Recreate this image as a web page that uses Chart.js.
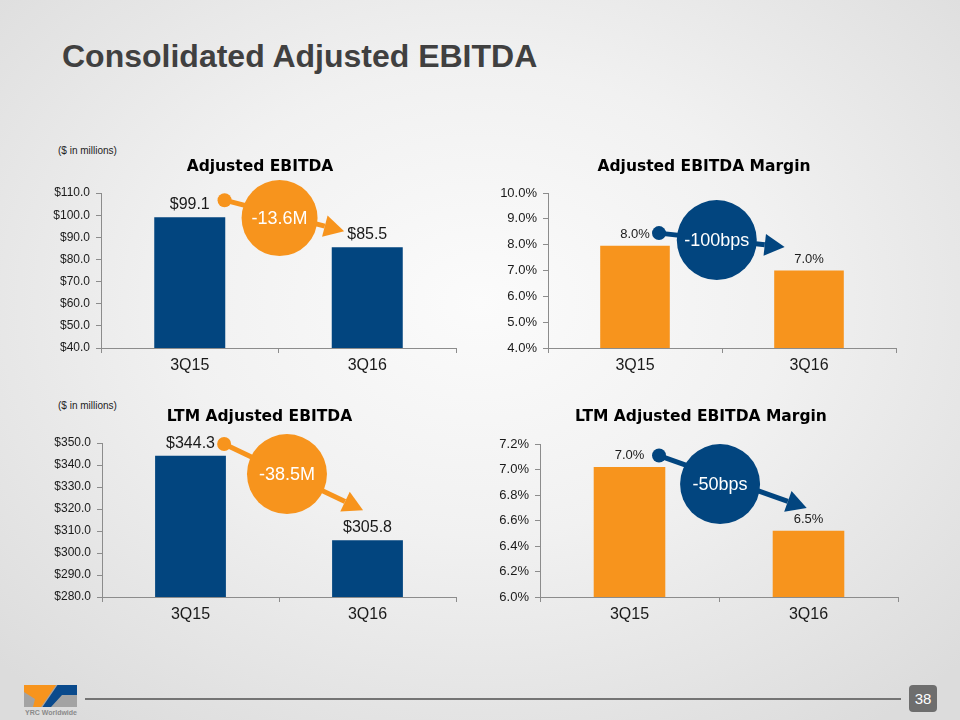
<!DOCTYPE html>
<html>
<head>
<meta charset="utf-8">
<script src="https://cdn.jsdelivr.net/npm/chart.js@4.4.0/dist/chart.umd.min.js"></script>
<style>
html,body{margin:0;padding:0;}
body{width:960px;height:720px;overflow:hidden;}
#slide{position:relative;width:960px;height:720px;overflow:hidden;
  background:radial-gradient(ellipse 70% 72% at 50% 42%, #fbfbfb 0%, #f1f1f1 45%, #dcdcdc 100%);
  font-family:"Liberation Sans", Arial, sans-serif;}
#title{position:absolute;left:62px;top:40px;font-size:32px;line-height:32px;font-weight:bold;color:#404040;white-space:nowrap;}
.unit{position:absolute;left:58px;font-size:10px;line-height:12px;color:#222;white-space:nowrap;}
canvas{position:absolute;}
#footline{position:absolute;left:85px;top:698px;width:816px;height:2px;background:#747474;}
#page{position:absolute;left:909px;top:685px;width:28px;height:27px;border-radius:4px;background:#6e6e6e;color:#fff;font-size:15px;line-height:27px;text-align:center;}
#logo{position:absolute;left:24px;top:685px;}
#logotext{position:absolute;left:25px;top:709px;font-size:7px;line-height:8px;font-weight:bold;color:#8a8a8a;white-space:nowrap;}
</style>
</head>
<body>
<div id="slide">
  <div id="title">Consolidated Adjusted EBITDA</div>
  <div class="unit" style="top:145px;">($ in millions)</div>
  <div class="unit" style="top:400px;">($ in millions)</div>
  <canvas id="c1" width="440" height="228" style="left:40px;top:150px;"></canvas>
  <canvas id="c2" width="428" height="228" style="left:490px;top:150px;"></canvas>
  <canvas id="c3" width="439" height="227" style="left:40px;top:400px;"></canvas>
  <canvas id="c4" width="422" height="227" style="left:490px;top:400px;"></canvas>
  <svg id="logo" width="53" height="22" viewBox="0 0 53 22">
    <rect x="0" y="0" width="53" height="22" fill="#a3a3a3"/>
    <polygon points="0,0 32,0 17,22 9,22 11,14 0,7" fill="#f7941d"/>
    <polygon points="33.5,0 53,0 53,10 38,10 27,22 18.5,22" fill="#0a4a8c"/>
  </svg>
  <div id="logotext">YRC Worldwide</div>
  <div id="footline"></div>
  <div id="page">38</div>
</div>
<script>
// ---------- data ----------
const categories = ['3Q15', '3Q16'];

const ebitdaValues = [99.1, 85.5];
const ebitdaLabels = ['$99.1', '$85.5'];
const ebitdaTicks = [40, 50, 60, 70, 80, 90, 100, 110];

const marginValues = [7.96, 7.0];
const marginLabels = ['8.0%', '7.0%'];
const marginTicks = [4, 5, 6, 7, 8, 9, 10];

const ltmEbitdaValues = [344.3, 305.8];
const ltmEbitdaLabels = ['$344.3', '$305.8'];
const ltmEbitdaTicks = [280, 290, 300, 310, 320, 330, 340, 350];

const ltmMarginValues = [7.02, 6.52];
const ltmMarginLabels = ['7.0%', '6.5%'];
const ltmMarginTicks = [6.0, 6.2, 6.4, 6.6, 6.8, 7.0, 7.2];

const changeTexts = ['-13.6M', '-100bps', '-38.5M', '-50bps'];

// ---------- style ----------
const FONT = '"Liberation Sans", Arial, sans-serif';
const TITLE_FONT = '"DejaVu Sans", Verdana, sans-serif';
const NAVY = '#02457f';
const ORANGE = '#f7941d';
const AXIS = '#8c8c8c';
const TEXT = '#1a1a1a';

const dollarFmt = v => '$' + Number(v).toFixed(1);
const pctFmt = v => Number(v).toFixed(1) + '%';

// value labels above bars
const valueLabelPlugin = {
  id: 'valueLabels',
  afterDatasetsDraw(chart, args, opts) {
    const ctx = chart.ctx;
    const meta = chart.getDatasetMeta(0);
    ctx.save();
    ctx.font = opts.size + 'px ' + FONT;
    ctx.fillStyle = TEXT;
    ctx.textAlign = 'center';
    ctx.textBaseline = 'alphabetic';
    meta.data.forEach((bar, i) => ctx.fillText(opts.labels[i], bar.x, bar.y - opts.gap));
    ctx.restore();
  }
};

// change callout: dot -> arrow, with circle badge (positions in data units)
const changePlugin = {
  id: 'change',
  afterDatasetsDraw(chart, args, o) {
    if (!o || !o.text) return;
    const {ctx, scales: {x, y}} = chart;
    const px = p => [x.getPixelForValue(p[0]), y.getPixelForValue(p[1])];
    const [fx, fy] = px(o.from), [cx, cy] = px(o.center), [tx, ty] = px(o.to);
    const ang = Math.atan2(ty - fy, tx - fx);
    const headLen = 20, headW = 11;
    const bx = tx - headLen * Math.cos(ang), by = ty - headLen * Math.sin(ang);
    ctx.save();
    ctx.strokeStyle = o.color;
    ctx.fillStyle = o.color;
    ctx.lineWidth = 5;
    ctx.beginPath(); ctx.moveTo(fx, fy); ctx.lineTo(bx, by); ctx.stroke();
    ctx.beginPath(); ctx.arc(fx, fy, 7, 0, Math.PI * 2); ctx.fill();
    ctx.beginPath();
    ctx.moveTo(tx, ty);
    ctx.lineTo(bx - headW * Math.sin(ang), by + headW * Math.cos(ang));
    ctx.lineTo(bx + headW * Math.sin(ang), by - headW * Math.cos(ang));
    ctx.closePath(); ctx.fill();
    ctx.beginPath(); ctx.arc(cx, cy, o.radius, 0, Math.PI * 2); ctx.fill();
    ctx.fillStyle = '#ffffff';
    ctx.font = '18px ' + FONT;
    ctx.textAlign = 'center';
    ctx.textBaseline = 'middle';
    ctx.fillText(o.text, cx, cy + 1);
    ctx.restore();
  }
};

function makeChart(id, cfg) {
  return new Chart(document.getElementById(id), {
    type: 'bar',
    data: {
      labels: categories,
      datasets: [{
        data: cfg.values,
        backgroundColor: cfg.color,
        borderWidth: 0,
        barPercentage: 0.4,
        categoryPercentage: 1.0
      }]
    },
    options: {
      responsive: false,
      animation: false,
      events: [],
      layout: {padding: 0},
      plugins: {
        legend: {display: false},
        tooltip: {enabled: false},
        title: {
          display: true, text: cfg.title, color: '#000',
          font: {family: TITLE_FONT, size: 15.5, weight: 'bold'},
          padding: {top: 8, bottom: cfg.titleGap}
        },
        valueLabels: {labels: cfg.labels, size: cfg.labelSize, gap: 8},
        change: cfg.change
      },
      scales: {
        x: {
          grid: {display: true, drawOnChartArea: false, drawTicks: true, tickLength: 5, color: AXIS, offset: true},
          border: {display: true, color: AXIS, width: 1},
          ticks: {color: TEXT, font: {family: FONT, size: 16}, padding: 3, maxRotation: 0},
          afterFit(s) { s.height = 30; s.paddingLeft = 0; s.paddingRight = cfg.padRight; }
        },
        y: {
          min: cfg.ticks[0],
          max: cfg.ticks[cfg.ticks.length - 1],
          grid: {display: true, drawOnChartArea: false, drawTicks: true, tickLength: 5, color: AXIS},
          border: {display: true, color: AXIS, width: 1},
          ticks: {color: TEXT, font: {family: FONT, size: cfg.tickSize}, padding: 6, callback: cfg.fmt},
          afterBuildTicks(s) { s.ticks = cfg.ticks.map(v => ({value: v})); },
          afterFit(s) { s.width = cfg.axisWidth; }
        }
      }
    },
    plugins: [valueLabelPlugin, changePlugin]
  });
}

makeChart('c1', {
  title: 'Adjusted EBITDA', values: ebitdaValues, labels: ebitdaLabels, ticks: ebitdaTicks,
  color: NAVY, fmt: dollarFmt, tickSize: 12, labelSize: 16, axisWidth: 61, padRight: 24, titleGap: 16.5,
  change: {text: changeTexts[0], color: ORANGE, radius: 38, from: [0.196, 106.8], center: [0.506, 98.7], to: [0.87, 92.8]}
});
makeChart('c2', {
  title: 'Adjusted EBITDA Margin', values: marginValues, labels: marginLabels, ticks: marginTicks,
  color: ORANGE, fmt: pctFmt, tickSize: 13, labelSize: 13, axisWidth: 58, padRight: 22, titleGap: 16.5,
  change: {text: changeTexts[1], color: NAVY, radius: 40, from: [0.138, 8.45], center: [0.47, 8.18], to: [0.86, 7.91]}
});
makeChart('c3', {
  title: 'LTM Adjusted EBITDA', values: ltmEbitdaValues, labels: ltmEbitdaLabels, ticks: ltmEbitdaTicks,
  color: NAVY, fmt: dollarFmt, tickSize: 12, labelSize: 16, axisWidth: 62, padRight: 23, titleGap: 16.5,
  change: {text: changeTexts[2], color: ORANGE, radius: 40, from: [0.19, 349.6], center: [0.545, 335.9], to: [0.975, 319.5]}
});
makeChart('c4', {
  title: 'LTM Adjusted EBITDA Margin', values: ltmMarginValues, labels: ltmMarginLabels, ticks: ltmMarginTicks,
  color: ORANGE, fmt: pctFmt, tickSize: 13, labelSize: 13, axisWidth: 50, padRight: 14, titleGap: 17.5,
  change: {text: changeTexts[3], color: NAVY, radius: 40, from: [0.165, 7.11], center: [0.506, 6.886], to: [0.99, 6.698]}
});
</script>
</body>
</html>
